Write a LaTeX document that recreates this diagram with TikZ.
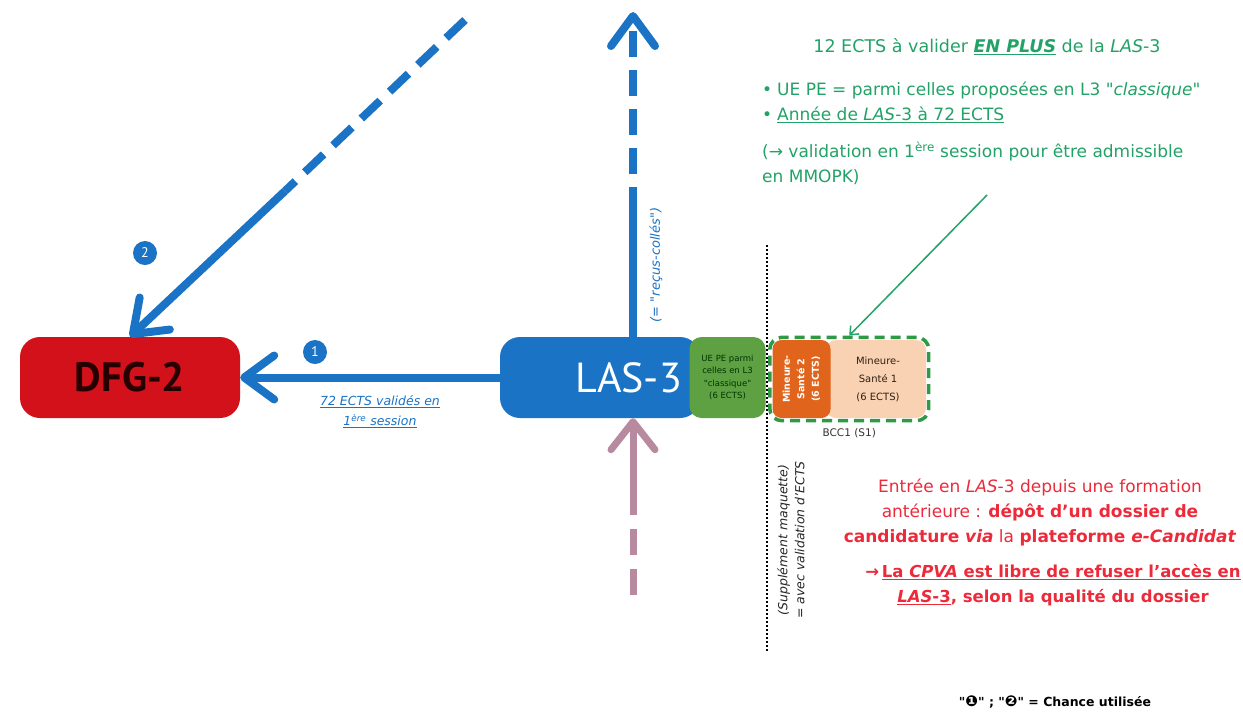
\documentclass[tikz,border=0pt]{standalone}
\usepackage{fontspec}
\setmainfont{DejaVu Sans}
\newfontfamily\labelfont{PT Sans}
\newfontfamily\symfont{DejaVu Sans}
\newcommand\dq{{\symfont\symbol{34}}}
\newcommand\chancemark[1]{{\fontsize{15}{15}\selectfont #1}}
\usetikzlibrary{arrows.meta,positioning,fit}

\definecolor{lasBlue}{HTML}{1A73C4}
\definecolor{dfgRed}{HTML}{D2111B}
\definecolor{ueGreen}{HTML}{5EA142}
\definecolor{msOrange}{HTML}{E0641C}
\definecolor{msPeach}{HTML}{F9D1B3}
\definecolor{bccGreen}{HTML}{2E9A48}
\definecolor{noteGreen}{HTML}{22A266}
\definecolor{noteRed}{HTML}{EC2A3A}
\definecolor{entryMauve}{HTML}{B78AA0}

\tikzset{
  barbtip/.style={-{Straight Barb[length=30pt,width=44pt,round]}},
  flowline/.style={draw=lasBlue, line width=8pt},
  flowdash/.style={flowline, dash pattern=on 26pt off 13pt},
  entryline/.style={draw=entryMauve, line width=7pt},
  entrydash/.style={entryline, dash pattern=on 26pt off 14pt},
  stagebox/.style={rounded corners=20pt, minimum height=81pt, inner sep=0pt},
  badge/.style={circle, fill=lasBlue, text=white, minimum size=24pt, inner sep=0pt,
    font=\labelfont\fontsize{14}{14}\selectfont},
}

\begin{document}
\begin{tikzpicture}[x=1pt, y=-1pt]
\useasboundingbox (0,0) rectangle (1243,716);
% stages
\node[stagebox, fill=dfgRed, minimum width=220pt, text=black!85!red,
  font=\labelfont\fontsize{41}{41}\bfseries] (dfg) at (130,377.5) {DFG-2};
\node[stagebox, fill=lasBlue, minimum width=200pt, text width=164pt, inner xsep=18pt,
  align=right, text=white, font=\labelfont\fontsize{42}{42}\selectfont] (las) at (600,377.5) {LAS-3};
\node[rounded corners=12pt, fill=ueGreen, minimum width=76pt, minimum height=81pt,
  inner sep=0pt, align=center, text=black!80!green,
  font=\fontsize{8.5}{12.5}\selectfont] (ue) at (727.5,377.5)
  {UE PE parmi\\celles en L3\\\dq classique\dq\\(6 ECTS)};
% minors
\node[rounded corners=10pt, fill=msPeach, minimum width=100pt, minimum height=78pt,
  inner sep=0pt, align=center, text=black!75!brown,
  font=\fontsize{10}{18}\selectfont] (ms1) at (876,379)
  {\hspace*{4pt}Mineure-\\\hspace*{4pt}Santé 1\\\hspace*{4pt}(6 ECTS)};
\node[rounded corners=9pt, fill=msOrange, rotate=90, minimum width=78pt, minimum height=58pt,
  inner sep=0pt, align=center, text=white,
  font=\fontsize{9.5}{14.5}\bfseries] (ms2) at (801.5,379)
  {Mineure-\\Santé 2\\(6 ECTS)};
\node[fit=(ms2)(ms1), inner sep=2.5pt, draw=bccGreen, line width=3.5pt,
  dash pattern=on 10pt off 6pt, rounded corners=12pt] (bcc) {};
\node[below=3pt of bcc, font=\fontsize{10.5}{10.5}\selectfont, text=black!80] (bcclabel) {BCC1 (S1)};
% supplement line
\coordinate (dottop) at (767,245);
\coordinate (dotbot) at (767,652);
\draw[line width=1.3pt, dash pattern=on 2pt off 2pt] (dottop) -- (dotbot);
\node[rotate=90, align=center, text=black!85, font=\fontsize{12.5}{17}\itshape]
  (supp) at (791,540) {(Supplément maquette)\\= avec validation d'ECTS};
% connectors
\draw[flowline, barbtip] (las.west) -- (dfg.east);
\node[badge] (b1) at (315,352) {1};
\node[align=center, text=lasBlue, font=\fontsize{12.5}{20}\itshape] (ects) at (380,412)
  {\underline{72 ECTS validés en}\\\underline{1\textsuperscript{ère} session}};
\coordinate (diagtop) at (465,20);
\coordinate (diagbreak) at (285,191);
\draw[flowdash] (diagtop) -- (diagbreak);
\draw[flowline, barbtip] (diagbreak) -- (dfg.north);
\node[badge] (b2) at (145,253) {2};
\coordinate (upbreak) at (633,213);
\coordinate (uptop) at (633,12);
\draw[flowline] (las.north -| upbreak) -- (upbreak);
\draw[flowdash, barbtip] (upbreak) -- (uptop);
\node[rotate=90, text=lasBlue, font=\fontsize{13}{13}\itshape] (recus) at (656,265)
  {(= \dq reçus-collés\dq)};
\coordinate (botstart) at (633,595);
\coordinate (botbreak) at (633,513);
\draw[entrydash] (botstart) -- (botbreak);
\draw[entryline, -{Straight Barb[length=28pt,width=44pt,round]}] (botbreak) -- (las.south -| botbreak);
% green note
\node[text=noteGreen, font=\fontsize{17.5}{25}\selectfont] (gnhead) at (987,47)
  {12 ECTS à valider \textbf{\textit{\underline{EN PLUS}}} de la \textit{LAS}-3};
\node[anchor=north west, align=left, text=noteGreen, font=\fontsize{17}{25}\selectfont,
  inner sep=0pt] (gnbody) at (762,82)
  {\textbullet\hspace{5pt}UE PE = parmi celles proposées en L3 \dq\textit{classique}\dq\\
   \textbullet\hspace{5pt}\underline{Année de \textit{LAS}-3 à 72 ECTS}\\[12pt]
   (→ validation en 1\textsuperscript{ère} session pour être admissible\\
   en MMOPK)};
\coordinate (gnarrow) at (987,195);
\draw[noteGreen, line width=1.5pt, -{Straight Barb[length=7pt,width=12pt]}] (gnarrow) -- (bcc.north);
% red note
\node[align=center, text=noteRed, font=\fontsize{17}{25}\selectfont] (rnentry) at (1040,512)
  {Entrée en \textit{LAS}-3 depuis une formation\\
   antérieure : \textbf{dépôt d'un dossier de}\\
   \textbf{candidature \textit{via}} la \textbf{plateforme \textit{e-Candidat}}};
\node[align=center, text=noteRed, font=\fontsize{16.5}{25}\bfseries] (rncpva) at (1053,585)
  {→\,\underline{La \textit{CPVA} est libre de refuser l'accès en}\\
   \underline{\textit{LAS}-3}, selon la qualité du dossier};
% legend
\node[font=\fontsize{12.5}{12.5}\bfseries] (chance) at (1055,702)
  {\dq\chancemark{❶}\dq\ ; \dq\chancemark{❷}\dq\ = Chance utilisée};
\end{tikzpicture}
\end{document}
